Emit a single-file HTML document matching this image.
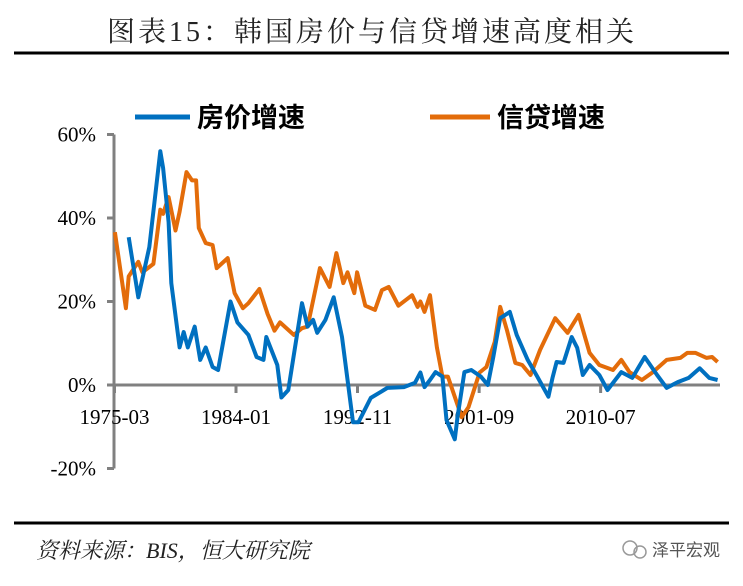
<!DOCTYPE html>
<html><head><meta charset="utf-8">
<style>
body{margin:0;background:#fff;width:743px;height:581px;overflow:hidden;font-family:"Liberation Serif","Noto Serif CJK SC",serif;}
</style></head>
<body>
<svg width="743" height="581" xmlns="http://www.w3.org/2000/svg">
<text x="372" y="41" text-anchor="middle" font-size="28" letter-spacing="3" fill="#222" font-family="Liberation Serif, Noto Serif CJK SC, serif">图表15：韩国房价与信贷增速高度相关</text>
<line x1="14" y1="53" x2="729" y2="53" stroke="#000" stroke-width="3"/>
<line x1="14" y1="523" x2="729" y2="523" stroke="#000" stroke-width="3"/>
<text x="36" y="558" font-size="22" font-style="italic" fill="#222" font-family="Liberation Serif, Noto Serif CJK SC, serif">资料来源：BIS，恒大研究院</text>
<g>
<circle cx="630" cy="548" r="7" fill="none" stroke="#999" stroke-width="1.5"/>
<circle cx="640" cy="552" r="6" fill="none" stroke="#999" stroke-width="1.5"/>
<text x="652" y="556" font-size="17" fill="#555" font-family="Liberation Sans, Noto Sans CJK SC, sans-serif">泽平宏观</text>
</g>
<g>
<line x1="135" y1="117" x2="190" y2="117" stroke="#0070C0" stroke-width="5"/>
<text x="197" y="127" font-size="27" font-weight="bold" fill="#000" font-family="Liberation Sans, Noto Sans CJK SC, sans-serif">房价增速</text>
<line x1="430" y1="117" x2="490" y2="117" stroke="#E36C0A" stroke-width="5"/>
<text x="497" y="127" font-size="27" font-weight="bold" fill="#000" font-family="Liberation Sans, Noto Sans CJK SC, sans-serif">信贷增速</text>
</g>
<g id="axes"></g>
<g id="series"></g>
</svg>
<script>
const yTicks=[60,40,20,0,-20];
const yTickLabels=["60%","40%","20%","0%","-20%"];
const xTicks=[1975.17,1984.0,1992.83,2001.67,2010.5];
const xTickLabels=["1975-03","1984-01","1992-11","2001-09","2010-07"];
const creditYears=[1975.2,1976.0,1976.2,1976.9,1977.2,1978.0,1978.5,1978.7,1979.1,1979.6,1979.9,1980.4,1980.8,1981.1,1981.3,1981.8,1982.3,1982.6,1983.4,1983.9,1984.5,1984.9,1985.7,1986.3,1986.8,1987.2,1988.2,1988.8,1989.2,1990.1,1990.8,1991.3,1991.8,1992.1,1992.6,1992.8,1993.4,1994.1,1994.6,1995.1,1995.8,1996.8,1997.2,1997.4,1997.7,1998.1,1998.6,1999.0,1999.4,2000.4,2000.9,2001.7,2002.2,2002.8,2003.2,2003.7,2004.3,2004.8,2005.4,2006.1,2007.2,2008.1,2008.9,2009.7,2010.4,2011.4,2012.0,2012.6,2013.5,2014.3,2015.3,2016.3,2016.8,2017.4,2018.2,2018.6,2019.0];
const creditValues=[36.6,18.4,26,29.5,27,29,42,41,45,37,41.5,51,49,49,37.6,34,33.5,28,30.4,22,18.4,19.6,23,17,13,15,12,13.6,14,28,23.5,31.6,24.4,27,22,27,19,18,22.7,23.5,19,21.5,18.7,20,17.5,21.5,9,2,2,-7.7,-5.3,3,4.3,10.3,18.7,13,5.3,4.8,2.4,8.4,16,12.5,16.8,7.7,4.8,3.6,6,3.1,1.2,3.1,6,6.5,7.7,7.7,6.5,6.7,5.5];
const houseYears=[1976.2,1976.9,1977.7,1978.5,1978.7,1979.1,1979.3,1979.9,1980.2,1980.5,1981.0,1981.4,1981.8,1982.3,1982.7,1983.6,1984.1,1984.9,1985.5,1986.0,1986.2,1987.0,1987.3,1987.8,1988.8,1989.2,1989.6,1989.9,1990.5,1991.1,1991.7,1992.5,1992.9,1993.8,1995.0,1996.2,1997.0,1997.4,1997.7,1998.1,1998.5,1999.0,1999.3,1999.9,2000.1,2000.6,2001.1,2001.8,2002.3,2002.7,2003.2,2003.9,2004.4,2005.2,2005.9,2006.7,2007.0,2007.3,2007.8,2008.4,2008.8,2009.2,2009.7,2010.4,2011.0,2012.0,2012.8,2013.7,2014.6,2015.3,2016.1,2016.9,2017.7,2018.4,2019.0];
const houseValues=[35.4,21,33,56,52,39,24.4,9,12.7,9,14,6,9,4.3,3.6,20,15,12,6.7,6,11.5,4.8,-3,-1.2,19.6,14,15.6,12.5,15.6,21,11.5,-8.9,-8.9,-3.1,-0.7,-0.5,0.5,3,-0.5,1.2,3.1,2,-8.4,-13,-7.7,3.1,3.6,2,0,6.7,16,17.5,12,6,2,-2.8,1.7,5.5,5.3,11.5,8.9,2.4,4.8,2.4,-1.2,3.1,1.7,6.7,2.4,-0.7,0.7,1.7,4,1.7,1.2,1.4,2.9];
const NS="http://www.w3.org/2000/svg";
function xS(t){return 114.5+(t-1975.17)*13.76;}
function yS(v){return 385-v*4.175;}
function mk(tag,attrs,parent){const e=document.createElementNS(NS,tag);for(const k in attrs)e.setAttribute(k,attrs[k]);parent.appendChild(e);return e;}
const axes=document.getElementById('axes');
const ya=mk('line',{x1:114,y1:yS(60),x2:114,y2:yS(-20),stroke:'#808080','stroke-width':3},axes);


yTicks.forEach((v,i)=>{
  const t=mk('line',{x1:107,y1:yS(v),x2:114,y2:yS(v),stroke:'#808080','stroke-width':3},axes);
  
  
  const l=mk('text',{x:96,y:yS(v)+7,'text-anchor':'end','font-size':21,fill:'#000'},axes);
  l.textContent=yTickLabels[i];
  
  
});
const xa=mk('line',{x1:114,y1:385,x2:720,y2:385,stroke:'#808080','stroke-width':3},axes);


xTicks.forEach((t,i)=>{
  const tk=mk('line',{x1:xS(t),y1:385,x2:xS(t),y2:393,stroke:'#808080','stroke-width':3},axes);
  
  
  const l=mk('text',{x:xS(t),y:424,'text-anchor':'middle','font-size':21,fill:'#000'},axes);
  l.textContent=xTickLabels[i];
  
  
});
const ser=document.getElementById('series');
function line(xs,vs,color,name){
  const d=xs.map((t,i)=>(i?'L':'M')+xS(t).toFixed(1)+','+yS(vs[i]).toFixed(1)).join('');
  const p=mk('path',{d:d,fill:'none',stroke:color,'stroke-width':4,'stroke-linejoin':'round'},ser);
  
  
}
line(creditYears,creditValues,'#E36C0A','credit-growth-line');
line(houseYears,houseValues,'#0070C0','house-price-growth-line');
</script>
</body></html>
